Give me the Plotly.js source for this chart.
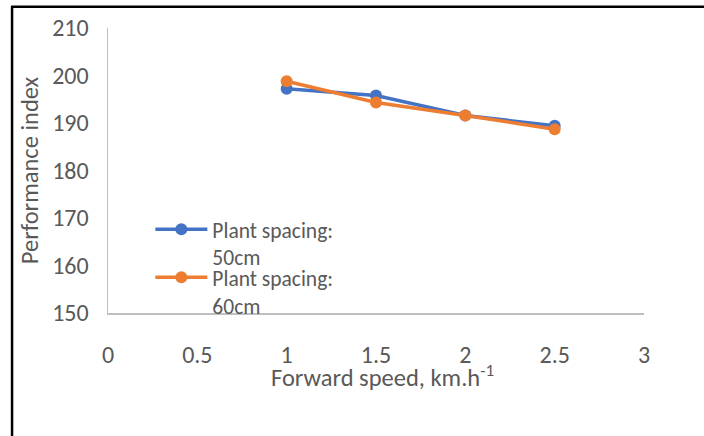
<!DOCTYPE html>
<html>
<head>
<meta charset="utf-8">
<script src="https://cdn.plot.ly/plotly-3.0.1.min.js"></script>
<style>
html,body{margin:0;padding:0;background:#fff;}
#chart{width:704px;height:436px;}
</style>
</head>
<body>
<div id="chart"></div>
<script>
const speeds = [1, 1.5, 2, 2.5];
const spacing50 = [197.2, 195.8, 191.6, 189.4];
const spacing60 = [198.8, 194.3, 191.6, 188.7];
const seriesNames = ["Plant spacing:<br>50cm", "Plant spacing:<br>60cm"];
const xTicks = [0, 0.5, 1, 1.5, 2, 2.5, 3];
const yTicks = [150, 160, 170, 180, 190, 200, 210];
const xTitle = 'Forward speed, km.h<sup>-1</sup>';
const yTitle = 'Performance index';

const textColor = '#595959';
const font = 'Carlito, Calibri, sans-serif';

const traces = [
  {x: speeds, y: spacing50, name: seriesNames[0], type: 'scatter', mode: 'lines+markers', legend: 'legend',
   line: {color: '#4472C4', width: 3.5}, marker: {color: '#4472C4', size: 12}},
  {x: speeds, y: spacing60, name: seriesNames[1], type: 'scatter', mode: 'lines+markers', legend: 'legend2',
   line: {color: '#ED7D31', width: 3.5}, marker: {color: '#ED7D31', size: 12}}
];

const legendBase = {xanchor: 'left', yanchor: 'top', bgcolor: 'rgba(0,0,0,0)', valign: 'top',
  itemwidth: 52, font: {family: font, size: 21.5, color: textColor}};

const layout = {
  width: 704, height: 436,
  margin: {l: 108, r: 60, t: 28, b: 123},
  paper_bgcolor: '#fff', plot_bgcolor: '#fff',
  showlegend: true,
  legend: Object.assign({}, legendBase, {x: 0.079, y: 0.366}),
  legend2: Object.assign({}, legendBase, {x: 0.079, y: 0.197}),
  xaxis: {range: [0, 3], tickvals: xTicks, ticktext: xTicks.map(String), showgrid: false, zeroline: false,
          showline: true, linecolor: '#bfbfbf', linewidth: 1.5, ticks: '',
          tickfont: {family: font, size: 24, color: textColor}, ticklabelstandoff: 20},
  yaxis: {range: [150, 210], tickvals: yTicks, ticktext: yTicks.map(String), showgrid: false, zeroline: false,
          showline: true, linecolor: '#bfbfbf', linewidth: 1.5, ticks: '',
          tickfont: {family: font, size: 24, color: textColor}, ticklabelstandoff: 13,
          title: {text: yTitle, font: {family: font, size: 24.5, color: textColor}, standoff: 6}},
  annotations: [
    {text: xTitle, xref: 'paper', yref: 'paper', x: 0.513, y: -0.158, xanchor: 'center', yanchor: 'top',
     showarrow: false, font: {family: font, size: 24.5, color: textColor}}
  ],
  shapes: [
    {type: 'line', xref: 'paper', yref: 'paper', x0: -0.179, x1: -0.179, y0: 1.075, y1: -0.6, line: {color: '#000', width: 2.5}},
    {type: 'line', xref: 'paper', yref: 'paper', x0: -0.181, x1: 1.2, y0: 1.075, y1: 1.075, line: {color: '#000', width: 2.5}}
  ]
};

Plotly.newPlot('chart', traces, layout, {displayModeBar: false, staticPlot: true});
</script>
</body>
</html>
